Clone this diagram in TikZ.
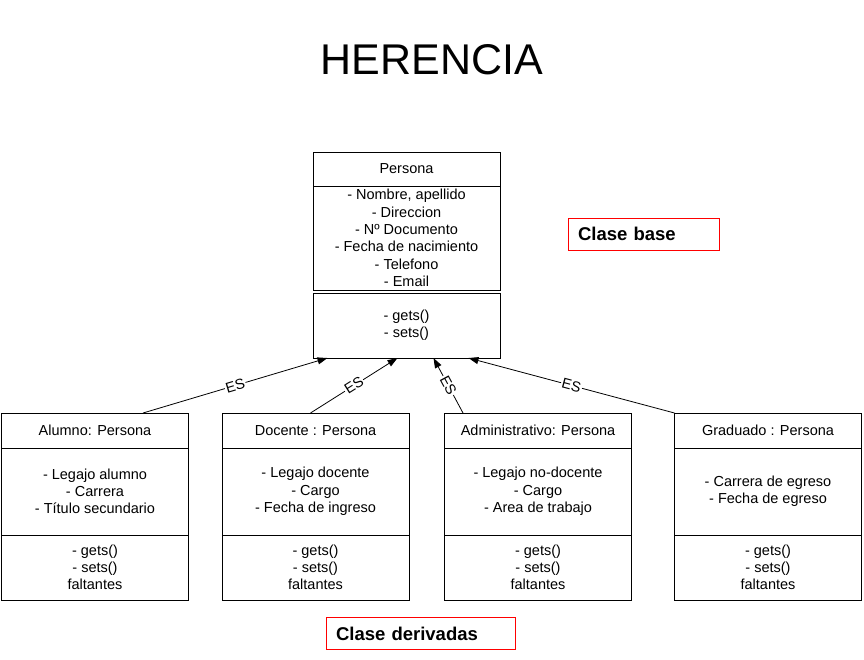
\documentclass[tikz,border=0pt]{standalone}
\usepackage{fontspec}
\setmainfont{Liberation Sans}
\usetikzlibrary{arrows.meta,positioning,calc}

\begin{document}
\begin{tikzpicture}[x=1pt,y=-1pt,
  classtxt/.style={font=\fontsize{14.5}{17.3}\selectfont,align=center,
                   inner sep=0pt,outer sep=0pt},
  classhead/.style={classtxt,draw,line width=0.9pt,
                    minimum width=187pt,minimum height=35pt},
  classattr/.style={classtxt,draw,line width=0.9pt,
                    minimum width=187pt,minimum height=87pt},
  classmeth/.style={classtxt,draw,line width=0.9pt,
                    minimum width=187pt,minimum height=65pt},
  note/.style={draw=red,line width=0.9pt,inner xsep=10pt,inner ysep=0pt,
               minimum height=32pt,text width=#1,align=left,
               font=\fontsize{18.5}{20}\selectfont\bfseries},
  arrow/.style={-{Stealth[length=10pt,width=7pt,inset=0pt]},line width=0.8pt},
  eslabel/.style={classtxt,fill=white,sloped,inner sep=1pt}
]
\useasboundingbox (0,0) rectangle (864,659);

\node[font=\fontsize{43}{46}\selectfont,inner sep=0pt] (title) at (432,60) {HERENCIA};

% clase base
\node[classhead,minimum height=34pt] (persona) at (406.5,169) {Persona};
\node[classattr,minimum height=104pt,below=0pt of persona] (personaattr)
  {- Nombre, apellido\\- Direccion\\- Nº Documento\\- Fecha de nacimiento\\- Telefono\\- Email};
\node[classmeth,below=3pt of personaattr] (personameth) {- gets()\\- sets()};

\node[note=131pt] (base) at (643.5,234) {Clase base};

% clases derivadas
\node[classhead] (alumno) at (95,430.5) {Alumno: Persona};
\node[classattr,below=0pt of alumno] (alumnoattr)
  {- Legajo alumno\\- Carrera\\- Título secundario};
\node[classmeth,below=0pt of alumnoattr] (alumnometh) {- gets()\\- sets()\\faltantes};

\node[classhead] (docente) at (315.5,430.5) {Docente : Persona};
\node[classattr,below=0pt of docente] (docenteattr)
  {- Legajo docente\\- Cargo\\- Fecha de ingreso};
\node[classmeth,below=0pt of docenteattr] (docentemeth) {- gets()\\- sets()\\faltantes};

\node[classhead] (admin) at (538,430.5) {Administrativo: Persona};
\node[classattr,below=0pt of admin] (adminattr)
  {- Legajo no-docente\\- Cargo\\- Area de trabajo};
\node[classmeth,below=0pt of adminattr] (adminmeth) {- gets()\\- sets()\\faltantes};

\node[classhead] (graduado) at (768,430.5) {Graduado : Persona};
\node[classattr,below=0pt of graduado] (graduadoattr)
  {- Carrera de egreso\\- Fecha de egreso};
\node[classmeth,below=0pt of graduadoattr] (graduadometh) {- gets()\\- sets()\\faltantes};

\node[note=169pt] (derivadas) at (420.5,633.5) {Clase derivadas};

\draw[arrow] ([xshift=48pt]alumno.north) -- node[eslabel]{ES} ([xshift=-79pt]personameth.south);
\draw[arrow] ([xshift=-5pt]docente.north) -- node[eslabel]{ES} ([xshift=-9pt]personameth.south);
\draw[arrow] ([xshift=-75pt]admin.north) -- node[eslabel]{ES} ([xshift=27pt]personameth.south);
\draw[arrow] (graduado.north west) -- node[eslabel]{ES} ([xshift=62pt]personameth.south);
\end{tikzpicture}
\end{document}
